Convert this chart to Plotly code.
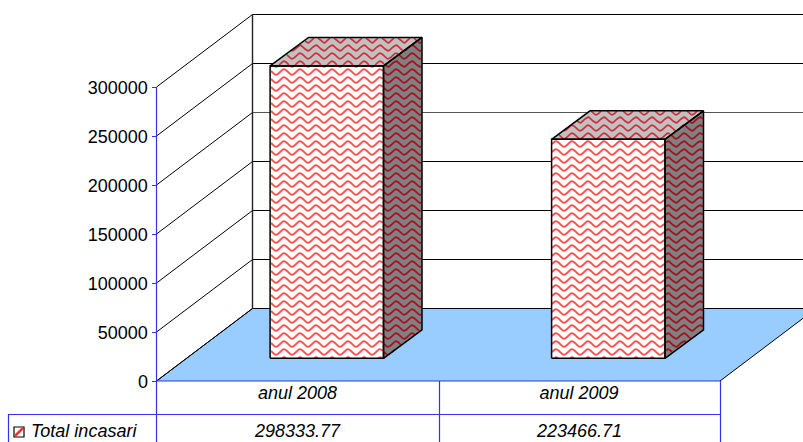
import math
import plotly.graph_objects as go

categories = ["anul 2008", "anul 2009"]
series_name = "Total incasari"
values = [298333.77, 223466.71]
value_ticks = [0, 50000, 100000, 150000, 200000, 250000, 300000]

W, H = 803, 442
# scale calibration (pixels)
Y0_PX, PX_PER_UNIT = 381.0, 294.0 / 300000
X0_PX, PX_PER_CAT = 297.5, 281.5

def xd(px): return (px - X0_PX) / PX_PER_CAT
def yd(py): return (Y0_PX - py) / PX_PER_UNIT
def xp(v): return X0_PX + v * PX_PER_CAT
def yp(v): return Y0_PX - v * PX_PER_UNIT

FLOOR_DX, FLOOR_DY = xd(253) - xd(157), 72.5 / PX_PER_UNIT
BAR_SHIFT_X, BAR_SHIFT_Y = 29.3 / PX_PER_CAT, 22.7 / PX_PER_UNIT
BAR_HALF = 56.7 / PX_PER_CAT
BAR_DX, BAR_DY = 38.5 / PX_PER_CAT, 28.5 / PX_PER_UNIT
LEFT, RIGHT = xd(156.5), xd(720)
AXIS_MAX = value_ticks[-1]

fig = go.Figure()

def poly(xs, ys, fill, line="black", width=1.5):
    fig.add_trace(go.Scatter(x=xs + xs[:1], y=ys + ys[:1], mode="lines", fill="toself",
                             fillcolor=fill, line=dict(color=line, width=width),
                             hoverinfo="skip", showlegend=False))

def seg(xs, ys, color="black", width=1.0):
    fig.add_trace(go.Scatter(x=xs, y=ys, mode="lines", line=dict(color=color, width=width),
                             hoverinfo="skip", showlegend=False))

def inside(pt, pts):
    x, y = pt
    c = False
    n = len(pts)
    for i in range(n):
        x1, y1 = pts[i]
        x2, y2 = pts[(i + 1) % n]
        if (y1 > y) != (y2 > y) and x < (x2 - x1) * (y - y1) / (y2 - y1) + x1:
            c = not c
    return c

def waves(xs, ys, color, width=1.9):
    """decorative fill pattern: wavy rows clipped to a polygon, built in screen pixels"""
    pts = [(xp(a), yp(b)) for a, b in zip(xs, ys)]
    xmin, xmax = min(p[0] for p in pts), max(p[0] for p in pts)
    ymin, ymax = min(p[1] for p in pts), max(p[1] for p in pts)
    ox, oy = [], []
    row = math.floor(ymin / 8.0) * 8.0
    while row < ymax + 3:
        px = math.floor(xmin)
        while px <= xmax + 1:
            py = row + 2.8 * math.sin(px * 2 * math.pi / 16.0)
            if inside((px, py), pts):
                ox.append(xd(px)); oy.append(yd(py))
            else:
                if ox and ox[-1] is not None:
                    ox.append(None); oy.append(None)
            px += 1
        if ox and ox[-1] is not None:
            ox.append(None); oy.append(None)
        row += 8.0
    fig.add_trace(go.Scatter(x=ox, y=oy, mode="lines",
                             line=dict(color=color, width=width),
                             hoverinfo="skip", showlegend=False))

# floor
poly([LEFT, RIGHT, RIGHT + FLOOR_DX, LEFT + FLOOR_DX], [0, 0, FLOOR_DY, FLOOR_DY], "#99ccff", width=0)
seg([LEFT, LEFT + FLOOR_DX], [0, FLOOR_DY], width=1)
seg([RIGHT, RIGHT + FLOOR_DX], [0, FLOOR_DY], width=1)
# back wall and side wall grid
for t in value_ticks:
    color = "#555555" if t == 200000 else "black"
    seg([LEFT, LEFT + FLOOR_DX], [t, t + FLOOR_DY], width=1)
    seg([LEFT + FLOOR_DX, xd(W + 5)], [t + FLOOR_DY, t + FLOOR_DY], color=color, width=1)
seg([LEFT + FLOOR_DX, LEFT + FLOOR_DX], [FLOOR_DY, AXIS_MAX + FLOOR_DY], color="#222222", width=1.4)

# bars
for i, v in enumerate(values):
    c = i + BAR_SHIFT_X
    l, r = c - BAR_HALF, c + BAR_HALF
    b, t = BAR_SHIFT_Y, v + BAR_SHIFT_Y
    # side
    sx, sy = [r, r + BAR_DX, r + BAR_DX, r], [b, b + BAR_DY, t + BAR_DY, t]
    poly(sx, sy, "#808080", width=0)
    waves(sx, sy, "#a80c1e", 1.7)
    # top
    tx, ty = [l, r, r + BAR_DX, l + BAR_DX], [t, t, t + BAR_DY, t + BAR_DY]
    poly(tx, ty, "#c4c0c0", width=0)
    waves(tx, ty, "#c8323c", 1.7)
    # front
    fx, fy = [l, r, r, l], [b, b, t, t]
    poly(fx, fy, "#ffffff", width=0)
    waves(fx, fy, "#ff5050")
    # outlines
    for xs, ys in ((sx, sy), (tx, ty), (fx, fy)):
        seg(xs + xs[:1], ys + ys[:1], width=1.5)

def paper(px, py):
    return px / W, 1 - py / H

BLUE = "#3333ee"
shapes = []
def pline(x0, y0, x1, y1, color=BLUE, width=1.2):
    a, b = paper(x0, y0)
    c, d = paper(x1, y1)
    shapes.append(dict(type="line", xref="paper", yref="paper", x0=a, y0=b, x1=c, y1=d,
                       line=dict(color=color, width=width)))

pline(156.5, 87, 156.5, 442)
pline(156.5, 381, 720, 381)
pline(8, 414.5, 720, 414.5)
pline(8.5, 414.5, 8.5, 442)
pline(439.5, 381, 439.5, 442)
pline(720.5, 381, 720.5, 442)
# legend key
a, b = paper(14, 437)
c, d = paper(24, 427)
shapes.append(dict(type="rect", xref="paper", yref="paper", x0=a, y0=b, x1=c, y1=d,
                   fillcolor="white", line=dict(color="black", width=1.2)))
pline(15, 436, 23, 428, color="#ff3030", width=2.5)

font = dict(family="Liberation Sans, Arial, sans-serif", size=18, color="black")
annotations = [dict(x=paper(29, 0)[0], y=paper(0, 430.5)[1], xref="paper", yref="paper", xanchor="left",
                    yanchor="middle", showarrow=False, text=f"<i>{series_name}</i>", font=font)]
for i, v in enumerate(values):
    annotations.append(dict(x=i, y=paper(0, 430.5)[1], xref="x", yref="paper", xanchor="center",
                            yanchor="middle", showarrow=False, text=f"<i>{v:.2f}</i>", font=font))

fig.update_layout(
    width=W, height=H, margin=dict(l=0, r=0, t=0, b=0),
    paper_bgcolor="white", plot_bgcolor="rgba(0,0,0,0)", showlegend=False, hovermode=False,
    shapes=shapes, annotations=annotations, font=font,
    xaxis=dict(range=[xd(0), xd(W)], showgrid=False, zeroline=False, showline=False,
               tickmode="array", tickvals=list(range(len(categories))),
               ticktext=[f"<i>{c}</i>" for c in categories],
               anchor="free", position=1 - Y0_PX / H, ticks="", ticklabelstandoff=-1, tickfont=font),
    yaxis=dict(range=[yd(H), yd(0)], showgrid=False, zeroline=False, showline=False,
               tickmode="array", tickvals=value_ticks, ticktext=[str(t) for t in value_ticks],
               anchor="free", position=156.5 / W, ticks="outside", ticklen=5, ticklabelshift=1,
               tickcolor=BLUE, tickwidth=1.2, tickfont=font),
)
fig.write_html("out.html", config=dict(displayModeBar=False),
               post_script="document.body.style.margin='0';document.body.style.overflow='hidden';")
